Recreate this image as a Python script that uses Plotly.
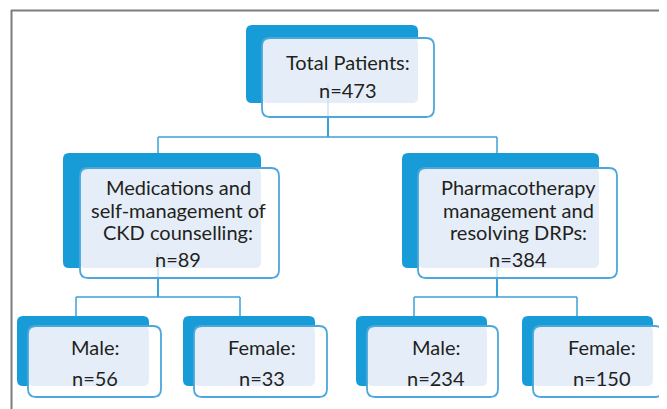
import plotly.graph_objects as go

# ---- data ----
node_titles = [
    "Total Patients:",
    "Medications and<br>self-management of<br>CKD counselling:",
    "Pharmacotherapy<br>management and<br>resolving DRPs:",
    "Male:",
    "Female:",
    "Male:",
    "Female:",
]
node_counts = [473, 89, 384, 56, 33, 234, 150]
node_parent = [None, 0, 0, 1, 1, 2, 2]

# ---- layout geometry (pixel space of the page) ----
W, H = 667, 409
OFF = 8  # default page body margin
geom = [
    dict(dark=(246, 25, 418, 103), light=(262, 38, 434, 117), tx=348, ty=62, cy=90, stem=328),
    dict(dark=(63, 153, 261, 268), light=(80, 168, 279, 278), tx=178, ty=209.5, cy=259, stem=158),
    dict(dark=(402, 153, 599, 268), light=(418, 168, 617, 278), tx=518, ty=209.5, cy=259, stem=497),
    dict(dark=(17, 316, 149, 386), light=(28, 326, 161, 397), tx=95, ty=347, cy=378, stem=76),
    dict(dark=(183, 316, 315, 386), light=(194, 326, 327, 397), tx=262, ty=347, cy=378, stem=240),
    dict(dark=(356, 316, 487, 386), light=(367, 326, 498, 397), tx=436, ty=347, cy=378, stem=414),
    dict(dark=(522, 316, 653, 386), light=(533, 326, 663, 397), tx=602, ty=347, cy=378, stem=577),
]
level_bar_y = {0: 137, 1: 297, 2: 297}
LINE_GAP = 22.5

DARK = "#189cd8"
BORDER = "#4ba7dc"
OVERLAP = "#e5eef8"
LINE = "#3aa2da"
FAINT = "#cfe2f3"
TEXT = "#231f20"
FONT = "Lato"
FSIZE = 20


def rrect(x0, y0, x1, y1, r):
    return (f"M {x0+r},{y0} L {x1-r},{y0} Q {x1},{y0} {x1},{y0+r} "
            f"L {x1},{y1-r} Q {x1},{y1} {x1-r},{y1} L {x0+r},{y1} "
            f"Q {x0},{y1} {x0},{y1-r} L {x0},{y0+r} Q {x0},{y0} {x0+r},{y0} Z")


shapes = []


def seg(x0, y0, x1, y1, color, width):
    shapes.append(dict(type="line", x0=x0, y0=y0, x1=x1, y1=y1,
                       line=dict(color=color, width=width), layer="above"))


# frame
seg(11, 10.5, W, 10.5, "#7d7d7d", 2)
seg(11.5, 10, 11.5, H, "#7d7d7d", 2)

# connectors
for p in sorted(set(x for x in node_parent if x is not None)):
    kids = [i for i, q in enumerate(node_parent) if q == p]
    g = geom[p]
    by = level_bar_y[p]
    seg(g["stem"], g["light"][3], g["stem"], by, LINE, 2)
    xs = [geom[k]["stem"] for k in kids]
    seg(min(xs), by, max(xs), by, LINE, 1.5)
    for k in kids:
        seg(geom[k]["stem"], by, geom[k]["stem"], geom[k]["dark"][1], LINE, 1.5)

# boxes
for i, g in enumerate(geom):
    dx0, dy0, dx1, dy1 = g["dark"]
    lx0, ly0, lx1, ly1 = g["light"]
    shapes.append(dict(type="path", path=rrect(dx0, dy0, dx1, dy1, 6),
                       fillcolor=DARK, line=dict(width=0), layer="above"))
    shapes.append(dict(type="path", path=rrect(lx0, dy1 - 6, lx1, ly1, 8),
                       fillcolor="white", line=dict(width=0), layer="above"))
    shapes.append(dict(type="path", path=rrect(dx1 - 6, ly0, lx1, ly1, 8),
                       fillcolor="white", line=dict(width=0), layer="above"))
    shapes.append(dict(type="path", path=rrect(lx0, ly0, dx1, dy1, 6),
                       fillcolor=OVERLAP, line=dict(width=0), layer="above"))
    if i in (0, 1, 2):
        shapes.append(dict(type="line", x0=g["stem"], x1=g["stem"], y0=g["cy"] - 6, y1=ly1,
                           line=dict(color=FAINT, width=1.5), layer="above"))
    shapes.append(dict(type="path", path=rrect(lx0, ly0, lx1, ly1, 8),
                       fillcolor="rgba(0,0,0,0)", line=dict(color=BORDER, width=1.8),
                       layer="above"))

annotations = []
for i, g in enumerate(geom):
    lines = node_titles[i].split("<br>")
    n = len(lines)
    for j, ln in enumerate(lines):
        annotations.append(dict(x=g["tx"], y=g["ty"] + (j - (n - 1) / 2) * LINE_GAP, text=ln,
                                showarrow=False, xanchor="center", yanchor="middle",
                                font=dict(family=FONT, size=FSIZE, color=TEXT)))
    annotations.append(dict(x=g["tx"], y=g["cy"], text=f"n={node_counts[i]}", showarrow=False,
                            xanchor="center", yanchor="middle",
                            font=dict(family=FONT, size=FSIZE, color=TEXT)))

fig = go.Figure()
fig.add_trace(go.Scatter(x=[OFF, W], y=[OFF, H], mode="markers",
                         marker=dict(opacity=0), hoverinfo="skip", showlegend=False))
fig.update_layout(
    width=W - OFF, height=H - OFF, margin=dict(l=0, r=0, t=0, b=0),
    paper_bgcolor="white", plot_bgcolor="white",
    xaxis=dict(range=[OFF, W], visible=False, fixedrange=True),
    yaxis=dict(range=[H, OFF], visible=False, fixedrange=True),
    shapes=shapes, annotations=annotations, showlegend=False,
)
fig.write_html("out.html")
